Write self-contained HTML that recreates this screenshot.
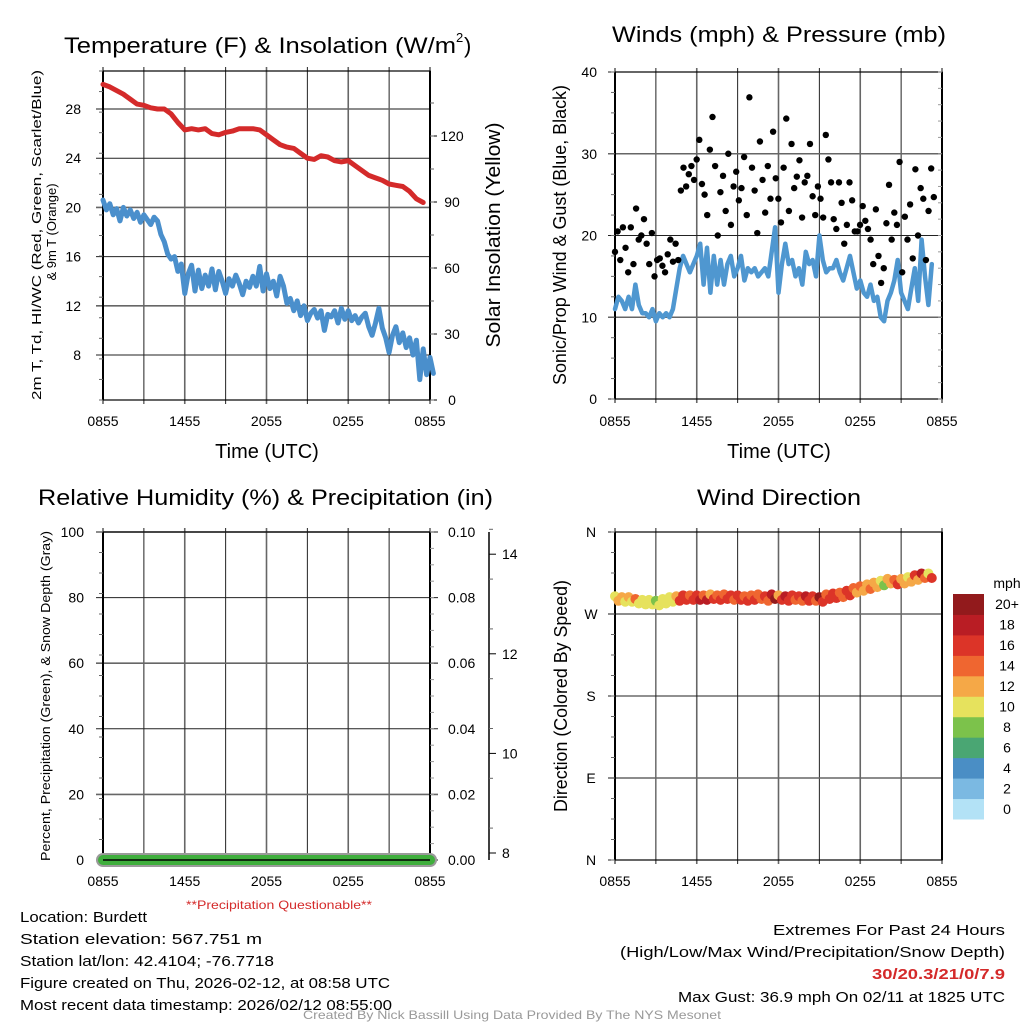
<!DOCTYPE html>
<html><head><meta charset="utf-8"><style>
html,body{margin:0;padding:0;background:#fff;}
svg{display:block;font-family:"Liberation Sans",sans-serif;}
</style></head><body>
<svg id="chart" width="1024" height="1024" viewBox="0 0 1024 1024" xmlns="http://www.w3.org/2000/svg">
<rect width="1024" height="1024" fill="#fff"/>
<g id="g"></g>
</svg>
<script>
// ---- data ----
const timeTicks = ["0855","1455","2055","0255","0855"];
const tempTicks = [8,12,16,20,24,28];
const insolTicks = [0,30,60,90,120];
const windTicks = [0,10,20,30,40];
const rhTicks = [0,20,40,60,80,100];
const precipTicks = ["0.00","0.02","0.04","0.06","0.08","0.10"];
const snowTicks = [8,10,12,14];
const dirTicks = ["N","E","S","W","N"];
const speedBins = ["0","2","4","6","8","10","12","14","16","18","20+"];
const speedColors = ["#b3e2f6","#7bb9e2","#4a8ec5","#4aa673","#7cc24b","#e6e25d","#f5a847","#ef6630","#dc3428","#b91d24","#921a1c"];
// temperature (F), every 0.5 h
const temp2m = [30.0,29.8,29.5,29.2,28.8,28.4,28.3,28.1,28.0,28.0,27.6,26.9,26.3,26.4,26.3,26.4,26.0,25.9,26.1,26.2,26.4,26.4,26.4,26.3,25.9,25.5,25.1,24.9,24.8,24.4,24.0,23.9,24.2,24.1,23.8,23.7,23.8,23.4,23.0,22.6,22.4,22.2,21.9,21.8,21.7,21.3,20.7,20.4];
// wind chill (F), every 0.25 h
const windChill = [20.6,19.8,20.3,19.4,19.9,18.9,20.0,19.3,19.8,19.1,19.6,18.8,19.4,19.0,18.6,19.2,18.9,17.8,17.2,16.2,15.8,16.0,14.8,15.4,13.0,14.6,15.3,13.2,14.9,13.4,14.5,13.6,15.0,13.3,14.8,14.0,13.0,14.2,13.6,14.5,13.8,12.9,14.0,13.5,14.4,13.6,15.2,13.2,14.6,13.4,14.0,12.8,14.4,13.6,12.2,12.6,11.6,12.4,11.2,12.0,10.8,11.4,11.7,11.0,11.6,10.0,11.3,11.1,11.6,10.6,11.8,10.9,11.6,10.8,11.2,10.6,11.1,11.4,10.3,9.6,10.6,11.8,10.2,9.4,8.2,9.6,10.3,9.0,9.8,8.6,9.4,8.0,9.2,6.0,8.5,6.4,7.8,6.5];
// sonic wind speed (mph), every 0.25 h
const windSpeed = [11,12.5,12,11,12.5,11,14,11.5,10.5,10.5,10,11,9.5,10.5,10,10.5,10,11,13.5,16,17.5,16.5,15.5,16.5,17.5,19,14,18.5,13,17.5,14,17,14,16.5,17.5,15,16,17.5,14.5,16,15.5,16,15,15.5,16,15,18,21,13,16.5,19,16.5,17,15,16,14,18,16.5,17,15,20,17,15.5,16,16,17,15.5,14.5,16,17.5,15.5,13.5,14.5,13,12.5,14,12,12.5,10,9.5,12,13,14.5,17,13,12,11,13.5,16,12,19.5,15,11.5,16.5];
// gusts (mph), evenly spaced 0 – 23.4 h
const windGust = [18,20.5,17,21,18.5,15.5,21,16.5,23.3,19.5,20,22,19,16.5,20.3,15,17,17.2,16.3,15.5,17.7,19.5,16.8,19,17,25.5,28.3,26,27.5,28.5,26.8,29.3,31.7,26.3,25,22.5,30.5,34.5,28.5,20,25.3,27.3,23,30,21.3,26,27.8,24.3,25.8,29.6,22.5,36.9,28.3,25.5,20.3,31.5,26.8,22.8,28.5,24.5,32.7,27,24.5,21.6,28.3,34.3,23,31.2,25.8,27.2,29.2,22.2,26.5,27.3,31.2,24.8,22.5,26,24.5,22.2,32.3,29.3,26.5,22,20.8,26.5,24,19,21.3,26.5,24.3,20.5,20.5,21.3,23.6,21.8,20.8,19.5,16.5,23.2,17.5,14.2,16,21.5,26.2,19.5,22.8,21.3,29,15.5,22.3,19.5,23.8,17.2,28.1,20,25.8,24.5,17,23,28.2,24.7];
// wind direction (deg), every 0.5 h
const windDir = [287,286,286,284,283,283,282,284,286,287,288,288,288,288,289,288,289,288,288,287,288,289,287,289,288,287,288,287,287,287,286,289,290,291,293,296,298,300,302,304,306,305,306,308,310,312,312];
const rh = [0,0];
const precip = [0,0];

// ---- helpers ----
const NS="http://www.w3.org/2000/svg";
const G=document.getElementById('g');
function el(tag,attrs,parent){const e=document.createElementNS(NS,tag);for(const k in attrs)e.setAttribute(k,attrs[k]);(parent||G).appendChild(e);return e;}
function txt(s,x,y,size,attrs,parent){const t=el('text',Object.assign({x:x,y:y,'font-size':size,fill:'#000'},attrs||{}),parent);t.textContent=s;return t;}

const X0l=103,X1l=430,X0r=615,X1r=942;
function xs(x0,x1){return h=>x0+(x1-x0)*h/24;}
function grid(x0,x1,y0,y1,nh,ysLines,name){
  const g=el('g',{});
  
  
  for(let i=0;i<=8;i++){const x=x0+(x1-x0)*i/8;el('line',{x1:x,y1:y0-4,x2:x,y2:y1+4,stroke:i%2?'#222':'#666','stroke-width':i%2?1:1.6},g);}
  ysLines.forEach((y,i)=>el('line',{x1:x0-7,y1:y,x2:x1+(name==='rh'?8:0),y2:y,stroke:i%2?'#666':'#222','stroke-width':i%2?1.6:1},g));
  el('rect',{x:x0,y:y0,width:x1-x0,height:y1-y0,fill:'none',stroke:'#000','stroke-width':1.2},g);
  el('line',{x1:x0,y1:y0,x2:x0,y2:y1,stroke:'#000','stroke-width':2},g);
  el('line',{x1:x1,y1:y0,x2:x1,y2:y1,stroke:'#000','stroke-width':2},g);
  const n=16;for(let i=0;i<=n;i++){const y=y0+(y1-y0)*i/n;el('line',{x1:x0,y1:y,x2:x0-4,y2:y,stroke:'#666','stroke-width':1},g);}
  return g;
}
function timeLabels(x0,x1,y,name){const g=el('g',{});
  timeTicks.forEach((s,i)=>txt(s,x0+(x1-x0)*i/4,y,14,{'text-anchor':'middle'},g));}
function pathFrom(vals,step,fx,fy){return vals.map((v,i)=>(i?'L':'M')+fx(i*step).toFixed(1)+','+fy(v).toFixed(1)).join('');}

// ===== Panel 1: temperature =====
{
  const y0=71,y1=400;
  const fy=v=>355-(v-8)*12.3;
  const fyR=v=>400-v*2.2;
  const fx=xs(X0l,X1l);
  grid(X0l,X1l,y0,y1,8,tempTicks.map(fy),'temp');
  const tl=el('g',{});
  tempTicks.forEach(v=>txt(String(v),81,fy(v)+5,14,{'text-anchor':'end'},tl));
  const tr=el('g',{});
  insolTicks.forEach(v=>{el('line',{x1:X1l,y1:fyR(v),x2:X1l+7,y2:fyR(v),stroke:'#000'},tr);txt(String(v),452,fyR(v)+5,14,{'text-anchor':'middle'},tr);});
  for(let v=0;v<=145;v+=15)el('line',{x1:X1l,y1:fyR(v),x2:X1l+4,y2:fyR(v),stroke:'#666'},tr);
  timeLabels(X0l,X1l,426,'temp');
  const p1=el('path',{d:pathFrom(windChill,0.25,fx,fy),fill:'none',stroke:'#4a8fcc','stroke-width':5,'stroke-linejoin':'round','stroke-linecap':'round'});
  
  const p2=el('path',{d:pathFrom(temp2m,0.5,fx,fy),fill:'none',stroke:'#d42a2a','stroke-width':5,'stroke-linejoin':'round','stroke-linecap':'round'});
  
  const t=txt('Temperature (F) & Insolation (W/m',64,53,22,{textLength:392,lengthAdjust:'spacingAndGlyphs'});
  
  txt('2',456,42,13);txt(')',464,53,22);
  const yl=el('text',{transform:'translate(41,235) rotate(-90)','font-size':13,'text-anchor':'middle',fill:'#000',textLength:330,lengthAdjust:'spacingAndGlyphs'});
  yl.textContent='2m T, Td, HI/WC (Red, Green, Scarlet/Blue)';
  
  const yl2=el('text',{transform:'translate(56,232) rotate(-90)','font-size':13,'text-anchor':'middle',fill:'#000'});yl2.textContent='& 9m T (Orange)';
  
  const yr=el('text',{transform:'translate(500,235) rotate(-90)','font-size':20,'text-anchor':'middle',fill:'#000',textLength:225,lengthAdjust:'spacingAndGlyphs'});yr.textContent='Solar Insolation (Yellow)';
  
  const xl=txt('Time (UTC)',267,458,20,{'text-anchor':'middle'});
}

// ===== Panel 2: winds =====
{
  const y0=72,y1=399;
  const fy=v=>y1-(y1-y0)*v/40;
  const fx=xs(X0r,X1r);
  grid(X0r,X1r,y0,y1,8,windTicks.map(fy),'wind');
  const tl=el('g',{});
  windTicks.forEach(v=>txt(String(v),597,fy(v)+5,14,{'text-anchor':'end'},tl));
  for(let v=0;v<=40;v+=2)el('line',{x1:X1r,y1:fy(v),x2:X1r-4,y2:fy(v),stroke:'#999'});
  timeLabels(X0r,X1r,426,'wind');
  const p=el('path',{d:pathFrom(windSpeed,0.25,fx,fy),fill:'none',stroke:'#4f97d0','stroke-width':4.5,'stroke-linejoin':'round','stroke-linecap':'round'});
  
  const gg=el('g',{});
  const st=23.4/(windGust.length-1);
  windGust.forEach((v,i)=>{const c=el('circle',{cx:fx(i*st),cy:fy(v),r:3.2,fill:'#000'},gg);});
  const t=txt('Winds (mph) & Pressure (mb)',612,42,22,{textLength:334,lengthAdjust:'spacingAndGlyphs'});
  
  const yl=el('text',{transform:'translate(566,235) rotate(-90)','font-size':18,'text-anchor':'middle',fill:'#000',textLength:300,lengthAdjust:'spacingAndGlyphs'});yl.textContent='Sonic/Prop Wind & Gust (Blue, Black)';
  
  const xl=txt('Time (UTC)',779,458,20,{'text-anchor':'middle'});
}

// ===== Panel 3: RH / precip =====
{
  const y0=532,y1=860;
  const fy=v=>y1-(y1-y0)*v/100;
  const fx=xs(X0l,X1l);
  grid(X0l,X1l,y0,y1,8,rhTicks.map(fy),'rh');
  const tl=el('g',{});
  rhTicks.forEach(v=>txt(String(v),84,fy(v)+5,14,{'text-anchor':'end'},tl));
  const tr=el('g',{});
  precipTicks.forEach((s,i)=>txt(s,448,fy(i*20)+5,14,{},tr));
  for(let v=0;v<=100;v+=5)el('line',{x1:X1l,y1:fy(v),x2:X1l+4,y2:fy(v),stroke:'#999'});
  const sa=el('g',{});
  el('line',{x1:489,y1:532,x2:489,y2:860,stroke:'#000','stroke-width':1.5},sa);
  const fs=v=>853-(v-8)*49.8;
  snowTicks.forEach(v=>{el('line',{x1:489,y1:fs(v),x2:496,y2:fs(v),stroke:'#000'},sa);txt(String(v),502,fs(v)+5,14,{},sa);});
  for(let v=8.5;v<=14.5;v+=1)el('line',{x1:489,y1:fs(v),x2:493,y2:fs(v),stroke:'#666'},sa);
  timeLabels(X0l,X1l,886,'rh');
  const gr=el('line',{x1:fx(0),y1:fy(rh[0]),x2:fx(24),y2:fy(rh[1]),stroke:'#9a9a9a','stroke-width':14,'stroke-linecap':'round'});
  
  const gn=el('line',{x1:fx(0),y1:fy(precip[0]),x2:fx(24),y2:fy(precip[1]),stroke:'#3fae3c','stroke-width':10,'stroke-linecap':'round'});
  
  el('line',{x1:X0l,y1:y1,x2:X1l,y2:y1,stroke:'#000','stroke-width':1.5});
  const t=txt('Relative Humidity (%) & Precipitation (in)',38,505,22,{textLength:455,lengthAdjust:'spacingAndGlyphs'});
  
  const yl=el('text',{transform:'translate(50,696) rotate(-90)','font-size':13,'text-anchor':'middle',fill:'#000',textLength:330,lengthAdjust:'spacingAndGlyphs'});yl.textContent='Percent, Precipitation (Green), & Snow Depth (Gray)';
  
  const q=txt('**Precipitation Questionable**',279,909,12,{'text-anchor':'middle',fill:'#d42a2a',textLength:186,lengthAdjust:'spacingAndGlyphs'});
  
}

// ===== Panel 4: wind direction =====
{
  const y0=532,y1=860;
  const fy=v=>y1-(y1-y0)*v/360;
  const fx=xs(X0r,X1r);
  grid(X0r,X1r,y0,y1,8,[0,90,180,270,360].map(fy),'dir');
  const tl=el('g',{});
  dirTicks.forEach((s,i)=>txt(s,591,fy(i*90)+5,14,{'text-anchor':'middle'},tl));
  timeLabels(X0r,X1r,886,'dir');
  const dg=el('g',{});
  windSpeed.forEach((s,i)=>{
    const d=windDir[Math.min(windDir.length-1,Math.floor(i/2))]+(i%2?-2.5:2.5);
    const bin=Math.min(10,Math.floor(s/2));
    const c=el('circle',{cx:fx(i*0.25),cy:fy(d),r:5,fill:speedColors[bin]},dg);
    
  });
  const t=txt('Wind Direction',697,505,22,{textLength:164,lengthAdjust:'spacingAndGlyphs'});
  
  const yl=el('text',{transform:'translate(567,696) rotate(-90)','font-size':18,'text-anchor':'middle',fill:'#000',textLength:232,lengthAdjust:'spacingAndGlyphs'});yl.textContent='Direction (Colored By Speed)';
  
  const cb=el('g',{});
  const bh=(819-594)/11;
  speedBins.forEach((s,i)=>{const y=819-(i+1)*bh;const r=el('rect',{x:953,y:y,width:31,height:bh+0.5,fill:speedColors[i]},cb);
    
    txt(s,1007,y+bh/2+5,14,{'text-anchor':'middle'},cb);});
  txt('mph',1007,588,14,{'text-anchor':'middle'},cb);
}

// ===== Footer text =====
{
  const f=el('g',{});
  const L=[['Location: Burdett',127],['Station elevation: 567.751 m',242],['Station lat/lon: 42.4104; -76.7718',254],['Figure created on Thu, 2026-02-12, at 08:58 UTC',370],['Most recent data timestamp: 2026/02/12 08:55:00',372]];
  L.forEach((a,i)=>txt(a[0],20,922+i*22,15,{textLength:a[1],lengthAdjust:'spacingAndGlyphs'},f));
  const r=el('g',{});
  txt('Extremes For Past 24 Hours',1005,935,15,{'text-anchor':'end',textLength:232,lengthAdjust:'spacingAndGlyphs'},r);
  txt('(High/Low/Max Wind/Precipitation/Snow Depth)',1005,957,15,{'text-anchor':'end',textLength:385,lengthAdjust:'spacingAndGlyphs'},r);
  txt('30/20.3/21/0/7.9',1005,979,15,{'text-anchor':'end','font-weight':'bold',fill:'#d42a2a',textLength:133,lengthAdjust:'spacingAndGlyphs'},r);
  txt('Max Gust: 36.9 mph On 02/11 at 1825 UTC',1005,1002,15,{'text-anchor':'end',textLength:327,lengthAdjust:'spacingAndGlyphs'},r);
  const c=txt('Created By Nick Bassill Using Data Provided By The NYS Mesonet',512,1019,12,{'text-anchor':'middle',fill:'#999',textLength:418,lengthAdjust:'spacingAndGlyphs'});
  
}
</script>
</body></html>
